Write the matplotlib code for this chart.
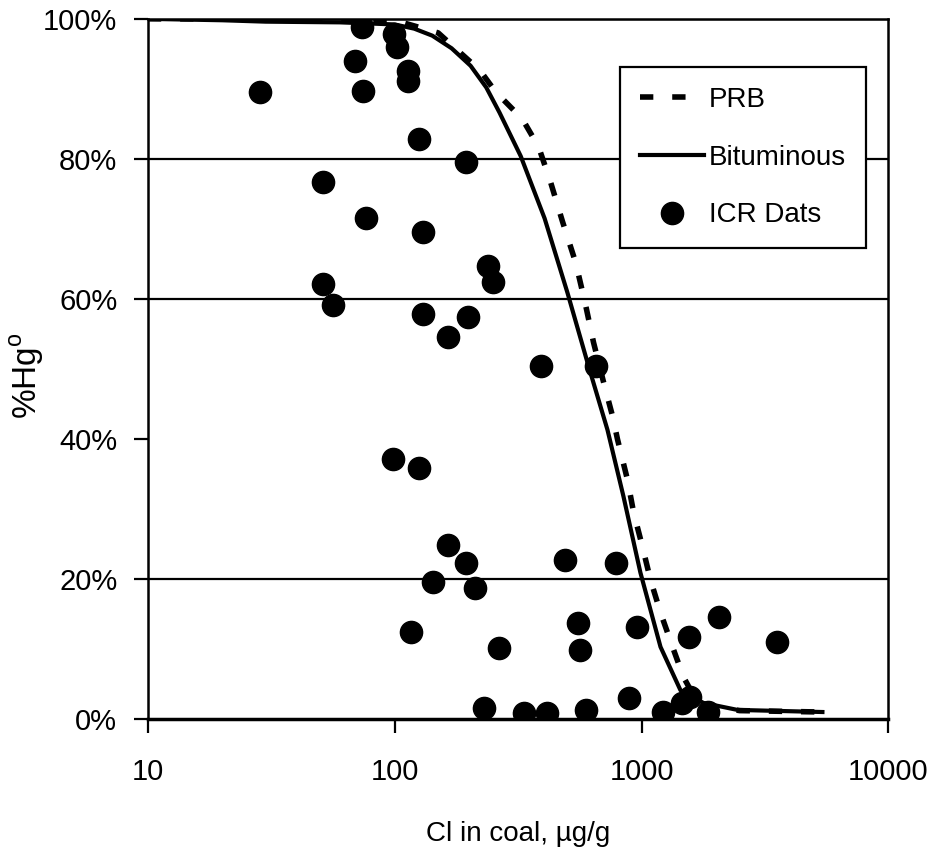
import matplotlib
matplotlib.use("Agg")
import matplotlib.pyplot as plt
import numpy as np
from matplotlib.ticker import FixedLocator, NullLocator, FuncFormatter

plt.rcParams['font.family'] = ['Liberation Sans', 'DejaVu Sans']
plt.rcParams['font.size'] = 21

# curves (Cl in coal, µg/g  vs  %Hg0)
prb_x = [10, 20, 50, 100, 150, 222, 256, 329, 383, 428, 479, 541, 593, 639, 702,
         764, 800, 877, 929, 1009, 1087, 1194, 1336, 1479, 1606, 1800, 2500, 5400]
prb_y = [100, 100, 100, 99.8, 98, 92.6, 89.6, 85.7, 81.7, 76.7, 71.0, 65.2, 59.2, 53.8, 48.1,
         43.2, 39.9, 34.2, 29.5, 24.6, 19.9, 15.2, 10.3, 6.0, 3.7, 2.0, 1.2, 1.0]

bit_x = [10, 20, 30, 60, 100, 120, 142, 170, 203, 235, 266, 324, 405, 501, 610, 728,
         845, 990, 1194, 1439, 1782, 2449, 5408]
bit_y = [100, 99.8, 99.6, 99.5, 99.2, 98.6, 97.6, 95.8, 93.3, 90.2, 86.6, 80.4, 71.5, 60.9, 50.4, 41.3,
         31.8, 20.9, 10.3, 4.1, 2.3, 1.3, 1.0]

# ICR data points
icr_x = [28.4, 68.9, 73.5, 74.3, 99, 102, 113, 113, 126, 195, 51.2, 76.3, 130, 51.2, 56.1,
         130, 164, 198, 238, 250, 390, 652, 98.2, 126, 164, 142.5, 116, 195, 211,
         492, 785, 551, 566, 264, 955, 1563, 2070, 3556,
         229, 333, 416, 598, 894, 1217, 1465, 1578, 1867]
icr_y = [89.6, 94.0, 98.9, 89.7, 97.8, 96.0, 92.6, 91.1, 82.8, 79.5, 76.7, 71.5, 69.5, 62.1, 59.2,
         57.8, 54.6, 57.4, 64.7, 62.4, 50.4, 50.4, 37.1, 35.8, 24.9, 19.6, 12.4, 22.3, 18.7,
         22.7, 22.3, 13.7, 9.9, 10.2, 13.2, 11.7, 14.6, 11.0,
         1.6, 0.9, 0.9, 1.3, 3.0, 1.0, 2.3, 3.1, 1.0]

y_ticks = [0, 20, 40, 60, 80, 100]
grid_y = [20, 60, 80, 100]   # the 40% line is faded out of the scan
x_ticks = [10, 100, 1000, 10000]

fig = plt.figure(figsize=(9.42, 8.57), dpi=100)
ax = fig.add_axes([0.157, 0.161, 0.786, 0.817])

for g in grid_y:
    ax.axhline(g, color='black', lw=1.6, zorder=1)

ax.plot(prb_x, prb_y, color='black', lw=4, linestyle=(0, (2.4, 3.4)), label='PRB', zorder=3)
ax.plot(bit_x, bit_y, color='black', lw=3, label='Bituminous', zorder=3)
ax.plot(icr_x, icr_y, 'o', color='black', ms=16, label='ICR Dats', zorder=4)

ax.set_xscale('log')
ax.set_xlim(10, 10000)
ax.set_ylim(0, 100)
ax.xaxis.set_major_locator(FixedLocator(x_ticks))
ax.xaxis.set_minor_locator(NullLocator())
ax.xaxis.set_major_formatter(FuncFormatter(lambda v, p: '%d' % v))
ax.yaxis.set_major_locator(FixedLocator(y_ticks))
ax.yaxis.set_major_formatter(FuncFormatter(lambda v, p: '%d%%' % v))

for s in ax.spines.values():
    s.set_linewidth(1.8)
ax.spines['bottom'].set_linewidth(2.5)
ax.tick_params(direction='out', length=10, width=1.6, pad=12, labelsize=21)
ax.tick_params(axis='x', pad=18)

ax.set_xlabel('Cl in coal, µg/g', fontsize=20)
ax.xaxis.set_label_coords(0.5, -0.145)
ax.set_ylabel('%Hg$^\\mathregular{o}$', fontsize=24)
ax.yaxis.set_label_coords(-0.138, 0.49)

leg = ax.legend(loc='upper left', bbox_to_anchor=(0.638, 0.931), fancybox=False,
                edgecolor='black', framealpha=1, fontsize=20, handlelength=2.3,
                handletextpad=0.2, labelspacing=1.15, borderpad=0.7, borderaxespad=0)
leg.get_frame().set_linewidth(1.6)

plt.savefig('out.png', dpi=100)
